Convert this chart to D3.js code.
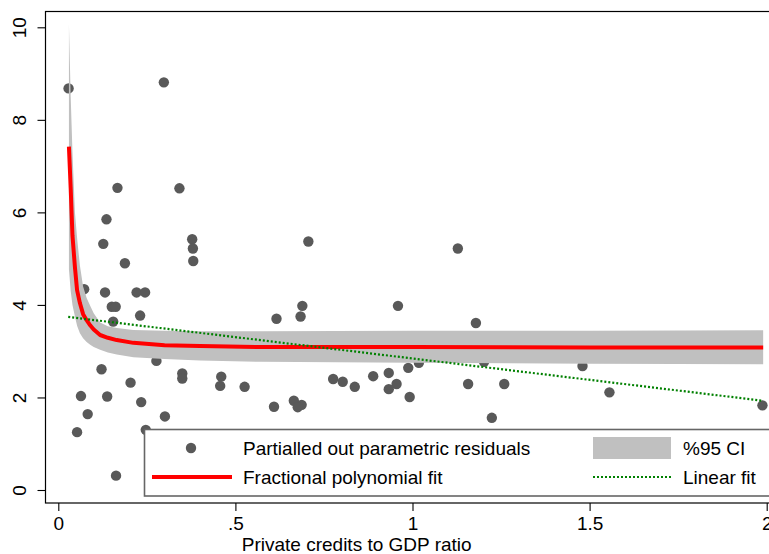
<!DOCTYPE html>
<html>
<head>
<meta charset="utf-8">
<script src="https://cdn.jsdelivr.net/npm/d3@7"></script>
<style>
  html, body { margin: 0; padding: 0; background: #fff; }
  svg { display: block; font-family: "Liberation Sans", Arial, sans-serif; }
</style>
</head>
<body>
<svg id="chart" width="769" height="554"></svg>
<script>
// ---- data ----
const pointsX = [0.029, 0.298, 0.167, 0.342, 0.136, 0.127, 0.378, 0.380, 0.381, 0.188,
  0.073, 0.132, 0.221, 0.245, 0.151, 0.162, 0.231, 0.155, 0.122, 0.277,
  0.350, 0.350, 0.204, 0.064, 0.138, 0.234, 0.083, 0.301, 0.053, 0.247,
  0.163, 0.706, 0.689, 0.684, 0.616, 0.959, 0.460, 0.457, 0.526, 0.776,
  0.803, 0.837, 0.889, 0.933, 0.955, 0.933, 0.609, 0.665, 0.687, 0.676,
  1.128, 1.179, 1.018, 0.988, 0.992, 1.202, 1.157, 1.259, 1.224, 1.480,
  1.556, 1.988];
const pointsY = [8.68, 8.81, 6.53, 6.52, 5.85, 5.32, 5.42, 5.22, 4.95, 4.90,
  4.34, 4.27, 4.27, 4.27, 3.96, 3.96, 3.77, 3.64, 2.61, 2.79,
  2.52, 2.41, 2.32, 2.03, 2.02, 1.90, 1.64, 1.59, 1.25, 1.30,
  0.31, 5.37, 3.98, 3.75, 3.70, 3.98, 2.45, 2.25, 2.23, 2.40,
  2.34, 2.23, 2.46, 2.53, 2.29, 2.18, 1.80, 1.93, 1.84, 1.79,
  5.22, 3.61, 2.75, 2.64, 2.01, 2.77, 2.29, 2.29, 1.56, 2.68,
  2.11, 1.83];

const fitX   = [0.03, 0.035, 0.04, 0.047, 0.053, 0.061, 0.07, 0.08, 0.09, 0.10, 0.118, 0.14, 0.165, 0.212, 0.30, 0.40, 0.57, 1.0, 1.5, 1.99];
const fitY   = [7.42, 6.52, 5.50, 4.81, 4.32, 4.04, 3.80, 3.67, 3.56, 3.47, 3.35, 3.29, 3.24, 3.18, 3.13, 3.11, 3.09, 3.09, 3.08, 3.08];
const ciUpper = [10.07, 8.5, 7.3, 6.0, 5.45, 4.85, 4.4, 4.15, 3.98, 3.82, 3.62, 3.54, 3.50, 3.46, 3.44, 3.43, 3.43, 3.44, 3.44, 3.45];
const ciLower = [4.77, 4.3, 4.0, 3.75, 3.55, 3.39, 3.28, 3.20, 3.14, 3.09, 3.03, 2.97, 2.93, 2.87, 2.83, 2.80, 2.77, 2.75, 2.73, 2.72];

const linX = [0.028, 1.988];
const linY = [3.74, 1.93];

const xTicks = [0, 0.5, 1, 1.5, 2];
const xTickLabels = ["0", ".5", "1", "1.5", "2"];
const yTicks = [0, 2, 4, 6, 8, 10];

const legendLabels = ["Partialled out parametric residuals", "Fractional polynomial fit", "%95 CI", "Linear fit"];
const xTitle = "Private credits to GDP ratio";

// ---- drawing ----
const svg = d3.select("#chart");
const frame = {left: 45.5, top: 11.5, bottom: 503};

const x = d3.scaleLinear().domain([0, 2]).range([58.3, 766.7]);
const y = d3.scaleLinear().domain([0, 10]).range([490, 27.3]);

const ptColor = "#595959";
const bandColor = "#c0c0c0";

// scatter
svg.append("g").selectAll("circle")
  .data(pointsX.map((d, i) => [d, pointsY[i]]))
  .join("circle")
  .attr("cx", d => x(d[0]))
  .attr("cy", d => y(d[1]))
  .attr("r", 5.2)
  .attr("fill", ptColor);

// CI band
const band = fitX.map((d, i) => ({x: d, lo: ciLower[i], hi: ciUpper[i], f: fitY[i]}));
svg.append("path")
  .datum(band)
  .attr("d", d3.area().x(d => x(d.x)).y0(d => y(d.lo)).y1(d => y(d.hi)))
  .attr("fill", bandColor);

// fractional polynomial fit
svg.append("path")
  .datum(band)
  .attr("d", d3.line().x(d => x(d.x)).y(d => y(d.f)))
  .attr("fill", "none")
  .attr("stroke", "#ff0000")
  .attr("stroke-width", 4)
  .attr("stroke-linejoin", "round");

// linear fit
svg.append("path")
  .datum(linX.map((d, i) => [d, linY[i]]))
  .attr("d", d3.line().x(d => x(d[0])).y(d => y(d[1])))
  .attr("fill", "none")
  .attr("stroke", "#008000")
  .attr("stroke-width", 2.2)
  .attr("stroke-dasharray", "2,2");

// frame
svg.append("rect")
  .attr("x", frame.left).attr("y", frame.top)
  .attr("width", 800).attr("height", frame.bottom - frame.top)
  .attr("fill", "none").attr("stroke", "#000").attr("stroke-width", 1.2);

// y axis
const yAxis = svg.append("g")
  .attr("transform", `translate(${frame.left},0)`)
  .call(d3.axisLeft(y).tickValues(yTicks).tickSize(8).tickFormat(d3.format("d")));
yAxis.select(".domain").remove();
yAxis.selectAll("line").attr("stroke", "#000").attr("stroke-width", 1.1);
yAxis.selectAll("text")
  .attr("x", null).attr("dy", null)
  .attr("text-anchor", "middle")
  .attr("transform", "translate(-19.5,0) rotate(-90)")
  .attr("fill", "#000")
  .style("font-size", "19px")
  .style("font-family", "'Liberation Sans', Arial, sans-serif");

// x axis
const xAxis = svg.append("g")
  .attr("transform", `translate(0,${frame.bottom})`)
  .call(d3.axisBottom(x).tickValues(xTicks).tickSize(8)
    .tickFormat((d, i) => xTickLabels[i]));
xAxis.select(".domain").remove();
xAxis.selectAll("line").attr("stroke", "#000").attr("stroke-width", 1.1);
xAxis.selectAll("text")
  .attr("y", null).attr("dy", null)
  .attr("transform", "translate(0,27)")
  .attr("fill", "#000")
  .style("font-size", "19px")
  .style("font-family", "'Liberation Sans', Arial, sans-serif");

// x title
svg.append("text")
  .attr("x", 356.7).attr("y", 551)
  .attr("text-anchor", "middle")
  .style("font-size", "19px")
  .text(xTitle);

// legend
const lg = svg.append("g");
lg.append("rect")
  .attr("x", 144.5).attr("y", 429.5)
  .attr("width", 700).attr("height", 66.5)
  .attr("fill", "#fff").attr("stroke", "#666").attr("stroke-width", 1.6);
lg.append("circle").attr("cx", 191).attr("cy", 448).attr("r", 5.2).attr("fill", ptColor);
lg.append("line").attr("x1", 152).attr("x2", 232).attr("y1", 477).attr("y2", 477)
  .attr("stroke", "#ff0000").attr("stroke-width", 4);
lg.append("rect").attr("x", 593).attr("y", 437).attr("width", 78).attr("height", 22).attr("fill", bandColor);
lg.append("line").attr("x1", 593).attr("x2", 671).attr("y1", 477).attr("y2", 477)
  .attr("stroke", "#008000").attr("stroke-width", 2.2).attr("stroke-dasharray", "2,2");
const lgText = [[243, 455], [243, 484], [683, 455], [683, 484]];
lg.selectAll("text.lt").data(legendLabels).join("text")
  .attr("class", "lt")
  .attr("x", (d, i) => lgText[i][0])
  .attr("y", (d, i) => lgText[i][1])
  .style("font-size", "19px")
  .text(d => d);
</script>
</body>
</html>
